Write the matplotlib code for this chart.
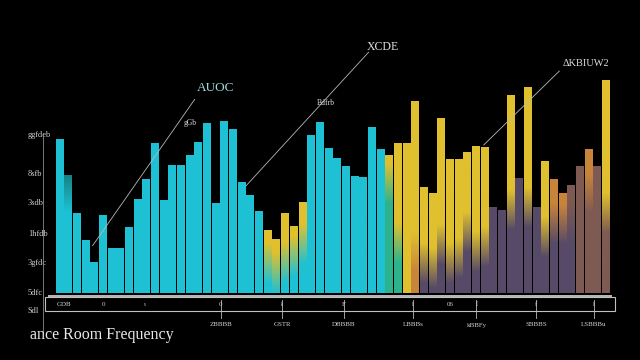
"""
Room frequency bars on a dark background (gradient-filled columns).
"""

import numpy as np
import matplotlib
matplotlib.use("Agg")
import matplotlib.pyplot as plt
from matplotlib import colors as mcolors
from matplotlib import transforms
from matplotlib.lines import Line2D
from matplotlib.patches import Rectangle

# bar heights (arbitrary units) and where the lower colour gives way to the upper one
heights = [154, 118, 80, 53, 31, 78, 45, 45, 66, 94,
           114, 150, 93, 128, 128, 138, 151, 170, 90, 172,
           164, 111, 98, 82, 63, 54, 80, 67, 91, 158,
           171, 145, 135, 127, 117, 116, 166, 144, 138, 150,
           150, 192, 106, 100, 175, 134, 134, 141, 147, 146,
           86, 83, 198, 115, 206, 86, 132, 114, 100, 108,
           127, 144, 127, 213]
splits = [0, 102, 0, 0, 0, 0, 0, 0, 0, 0,
          0, 0, 0, 0, 0, 0, 0, 0, 0, 0,
          0, 0, 0, 0, 30, 20, 30, 37, 49, 0,
          0, 0, 0, 0, 0, 0, 0, 0, 110, 50,
          0, 40, 30, 25, 48, 30, 35, 61, 41, 46,
          0, 0, 83, 0, 86, 0, 56, 70, 69, 70,
          0, 100, 0, 80]
bottom_keys = "c" * 38 + "ggyo" + "p" * 18 + "bbbb"
top_keys = "ct" + "c" * 22 + "y" * 5 + "c" * 9 + "yyyy" + "y" * 8 + "ppypyp" + "yoob" + "boby"

y_ticks = [0, 30, 59, 90, 119, 158]
y_labels = ["5dfc", "3gfdc", "1hfdb", "3sdb", "8sfb", "ggfdeb"]

x_ticks = [18.6, 25.7, 32.8, 40.8, 48.1, 55.0, 61.6]
x_labels = ["ZBBBB", "GSTR", "DBBBB", "LBBBs", "kBBFy", "SBBBS", "LSBBBu"]
box_marks = ["0", "ł", "F", "l", "ſ", "f", "l"]

PALETTE = {
    "c": "#1ec1d3",
    "t": "#147c7c",
    "y": "#e0c02e",
    "g": "#2db38c",
    "p": "#574a68",
    "o": "#c8843a",
    "b": "#7e5a52",
}
BLEND = 40
FONT = "Liberation Serif"


def px(x, y):
    return x / 640, 1 - y / 360


def main() -> None:
    fig = plt.figure(figsize=(6.4, 3.6), dpi=100, facecolor="black")
    ax = fig.add_axes([55 / 640, 67 / 360, 555 / 640, 233 / 360])
    ax.set_facecolor("black")

    for i, (h, s, kb, kt) in enumerate(zip(heights, splits, bottom_keys, top_keys)):
        bar = ax.bar(i, h, width=0.84, color="none", linewidth=0)[0]
        c0 = np.array(mcolors.to_rgb(PALETTE[kb]))
        c1 = np.array(mcolors.to_rgb(PALETTE[kt]))
        v = np.linspace(0, h, 120)
        t = np.clip((v - s + BLEND / 2) / BLEND, 0, 1)
        img = c0[None, :] * (1 - t[:, None]) + c1[None, :] * t[:, None]
        im = ax.imshow(img[:, None, :], extent=(i - 0.42, i + 0.42, 0, h),
                       origin="lower", aspect="auto", interpolation="bilinear")
        im.set_clip_path(bar)

    ax.set_xlim(-0.5, len(heights) - 0.5)
    ax.set_ylim(0, 233)
    ax.axis("off")

    # base bar, lower box and y axis line
    fig.add_artist(Rectangle(px(48, 298), 564 / 640, 3 / 360, color="#b5b5b5", lw=0))
    fig.add_artist(Rectangle(px(45, 311), 570 / 640, 14 / 360, fill=False,
                             edgecolor="#c0c0c0", lw=0.8))
    fig.add_artist(Line2D([43 / 640] * 2, [1 - 133 / 360, 1 - 333 / 360],
                          color="#8a8a8a", lw=0.6))

    ytr = transforms.blended_transform_factory(fig.transFigure, ax.transData)
    for v, lab in zip(y_ticks, y_labels):
        ax.text(28 / 640, v, lab, transform=ytr, ha="left", va="center",
                fontsize=6, color="#d0d0d0", family=FONT)
    fig.text(*px(28, 311), "Sdl", fontsize=6, color="#d0d0d0", va="center", family=FONT)

    xtr = transforms.blended_transform_factory(ax.transData, fig.transFigure)
    for x, lab, mk in zip(x_ticks, x_labels, box_marks):
        ax.add_artist(Line2D([x, x], [1 - 300 / 360, 1 - 318 / 360], transform=xtr,
                             color="#bbbbbb", lw=0.6, clip_on=False))
        ax.text(x, 1 - 325 / 360, lab, transform=xtr, ha="center", va="center",
                fontsize=5, color="#cfcfcf", family=FONT, clip_on=False)
        ax.text(x, 1 - 304 / 360, mk, transform=xtr, ha="center", va="center",
                fontsize=5, color="#cfcfcf", family=FONT, clip_on=False)
    for x, mk in [(64, "GDB"), (103, "0"), (145, "ι"), (450, "06")]:
        fig.text(*px(x, 304), mk, ha="center", va="center", fontsize=5,
                 color="#cfcfcf", family=FONT)

    line_kw = dict(arrowstyle="-", color="#b8b8b8", lw=0.6)
    ax.annotate("", xy=(3.65, 45), xytext=(15.8, 196), arrowprops=line_kw,
                annotation_clip=False)
    ax.annotate("", xy=(21.3, 105), xytext=(35.9, 243), arrowprops=line_kw,
                annotation_clip=False)
    ax.annotate("", xy=(48.7, 146), xytext=(57.9, 224), arrowprops=line_kw,
                annotation_clip=False)

    fig.text(*px(216, 88), "AUOC", ha="center", va="center", fontsize=9.5,
             color="#9fdada", family=FONT)
    fig.text(*px(383, 47), "XCDE", ha="center", va="center", fontsize=8.5,
             color="#e0e0e0", family=FONT)
    fig.text(*px(586, 63), "ΔKBIUW2", ha="center", va="center", fontsize=7.5,
             color="#dddddd", family=FONT)
    fig.text(*px(190, 123), "gGb", ha="center", va="center", fontsize=5.5,
             color="#dddddd", family=FONT)
    fig.text(*px(326, 103), "Bdfrb", ha="center", va="center", fontsize=5.5,
             color="#dddddd", family=FONT)

    fig.text(*px(30, 335), "ance Room Frequency", ha="left", va="center",
             fontsize=11.5, color="#e8e8e8", family=FONT)

    fig.savefig("out.png", dpi=100, facecolor="black")
    plt.close(fig)


if __name__ == "__main__":
    main()
